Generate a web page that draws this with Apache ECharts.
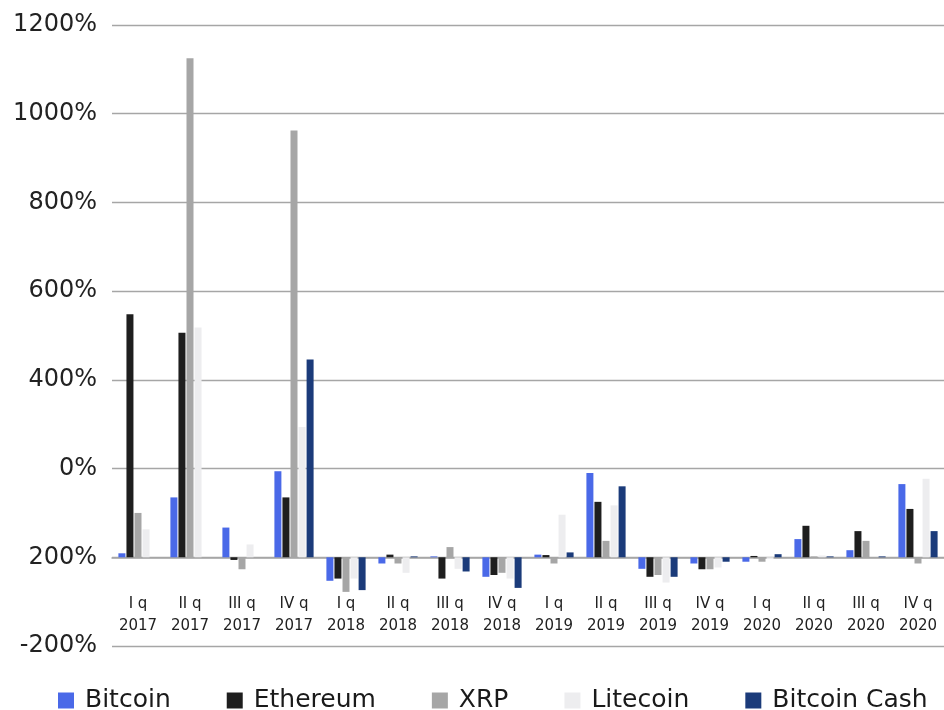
<!DOCTYPE html>
<html><head><meta charset="utf-8">
<script src="https://cdn.jsdelivr.net/npm/echarts@6/dist/echarts.min.js"></script>
<style>html,body{margin:0;padding:0;background:#fff}#c{width:944px;height:710px}</style>
</head><body><div id="c"></div>
<script>
const categories = ["I q\n2017","II q\n2017","III q\n2017","IV q\n2017","I q\n2018","II q\n2018","III q\n2018","IV q\n2018","I q\n2019","II q\n2019","III q\n2019","IV q\n2019","I q\n2020","II q\n2020","III q\n2020","IV q\n2020"];
const bitcoin     = [9, 135, 67, 194, -53, -14, 2, -44, 6, 190, -26, -14, -10, 41, 16, 165];
const ethereum    = [548, 506, -6, 135, -48, 6, -48, -40, 5, 125, -44, -27, 3, 71, 59, 109];
const xrp         = [100, 1125, -27, 962, -78, -14, 23, -35, -14, 37, -40, -27, -10, 2, 37, -14];
const litecoin    = [63, 518, 29, 294, -48, -35, -26, -48, 96, 117, -57, -23, -4, 4, 0, 177];
const bitcoinCash = [null, null, null, 446, -74, 2, -32, -69, 11, 160, -44, -10, 7, 2, 2, 59];
const yTickLabels = {"-200":"-200%","0":"200%","200":"0%","400":"400%","600":"600%","800":"800%","1000":"1000%","1200":"1200%"};

const names = ["Bitcoin","Ethereum","XRP","Litecoin","Bitcoin Cash"];
const colors = ["#4a69e8","#1e1e1e","#a6a6a6","#ededef","#1b3b7a"];
const datas = [bitcoin, ethereum, xrp, litecoin, bitcoinCash];
const FONT = "DejaVu Sans";
const Y_MIN = -200, Y_MAX = 1200;
const GRID_TOP = 25, GRID_BOTTOM = 64, H = 710;
const plotH = H - GRID_TOP - GRID_BOTTOM;
const zeroOffset = -plotH * (0 - Y_MIN) / (Y_MAX - Y_MIN);

const chart = echarts.init(document.getElementById('c'), null, {renderer:'canvas'});
chart.setOption({
  animation:false,
  textStyle:{fontFamily:FONT},
  grid:{left:112,right:0,top:GRID_TOP,bottom:GRID_BOTTOM,containLabel:false},
  legend:{
    top:683, left:53, itemWidth:16, itemHeight:16, itemGap:56,
    icon:'rect',
    textStyle:{fontFamily:FONT,fontSize:25,color:'#1a1a1a',padding:[0,0,0,6]},
    data:names
  },
  xAxis:{
    type:'category', data:categories, offset:zeroOffset,
    axisLine:{onZero:false,lineStyle:{color:'#a6a6a6',width:1.5}},
    axisTick:{show:false},
    axisLabel:{fontFamily:FONT,fontSize:15,color:'#222',lineHeight:22,margin:36,interval:0}
  },
  yAxis:{
    type:'value', min:Y_MIN, max:Y_MAX, interval:200,
    axisLine:{show:false},
    axisTick:{show:false},
    splitLine:{lineStyle:{color:'#a6a6a6',width:1.3}},
    axisLabel:{fontFamily:FONT,fontSize:24,color:'#222',margin:15,
      formatter:v=>yTickLabels[String(v)]}
  },
  series: names.map((n,i)=>({
    name:n, type:'bar', data:datas[i], barWidth:7, barGap:'15%',
    itemStyle:{color:colors[i]}
  }))
});
</script></body></html>
